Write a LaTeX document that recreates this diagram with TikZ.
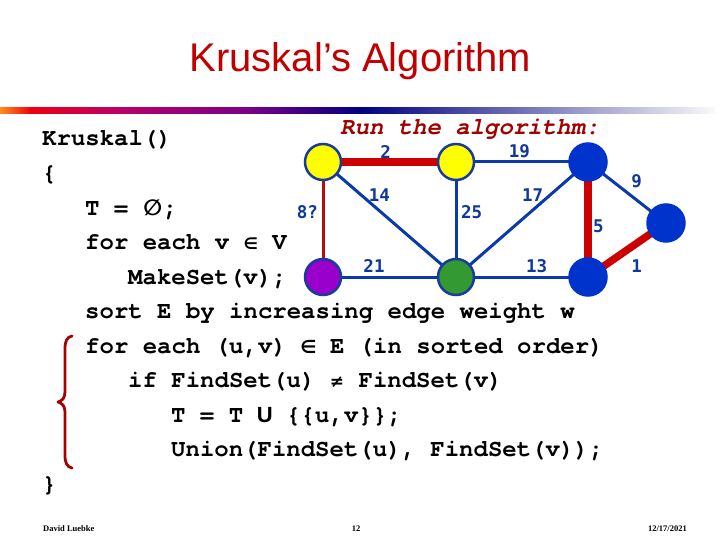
\documentclass[tikz,border=0pt]{standalone}
\usepackage{fontspec}
\setmainfont{Liberation Serif}
\newfontfamily\codefont{TeX Gyre Cursor}
\newfontfamily\symfont{DejaVu Sans}
\newfontfamily\titlefont{Liberation Sans}
\newfontfamily\wtfont{DejaVu Sans Mono}
\newcommand{\symcell}[2][14.4pt]{\makebox[#1][c]{#2}}
\definecolor{titlered}{HTML}{C00000}
\definecolor{runred}{HTML}{A00000}
\definecolor{vyellow}{HTML}{FFFF00}
\definecolor{vblue}{HTML}{0033CC}
\definecolor{vpurple}{HTML}{9900CC}
\definecolor{vgreen}{HTML}{339933}
\definecolor{vborder}{HTML}{1A3A9E}
\definecolor{eblue}{HTML}{0A3AA8}
\definecolor{ered}{HTML}{CC0000}
\definecolor{ethinred}{HTML}{B01010}
\definecolor{wtblue}{HTML}{10389A}
\definecolor{bracered}{HTML}{A80000}
\definecolor{barorange}{HTML}{FF9020}
\definecolor{barred}{HTML}{EE0010}
\definecolor{barmag}{HTML}{B8006A}
\definecolor{barpurple}{HTML}{780088}
\definecolor{barnavy}{HTML}{000080}
\definecolor{barend}{HTML}{FAFAFA}
\tikzset{
  vtx/.style={circle, minimum size=36pt, inner sep=0pt, line width=2.5pt},
  yv/.style={vtx, fill=vyellow, draw=vborder},
  bv/.style={vtx, fill=vblue, draw=vblue, minimum size=37pt},
  pv/.style={vtx, fill=vpurple, draw=vborder},
  gv/.style={vtx, fill=vgreen, draw=vborder},
  bedge/.style={draw=eblue, line width=3pt},
  redge/.style={draw=ered, line width=7.5pt},
  tredge/.style={draw=ethinred, line width=3pt},
  wt/.style={text=wtblue, inner sep=0pt, font=\wtfont\bfseries\fontsize{17.5}{17.5}\selectfont},
  code/.style={anchor=base west, inner sep=0pt, font=\codefont\bfseries\fontsize{24}{24}\selectfont},
  foot/.style={inner sep=0pt, font=\bfseries\fontsize{8.5}{8.5}\selectfont}
}
\begin{document}
\begin{tikzpicture}[x=1pt,y=-1pt]
\useasboundingbox (0,0) rectangle (720,540);
\fill[white] (0,0) rectangle (720,540);
% gradient bar
\shade[left color=barorange, right color=barred] (0,108) rectangle (31,114);
\shade[left color=barred, right color=barmag] (30,108) rectangle (121,114);
\shade[left color=barmag, right color=barpurple] (120,108) rectangle (251,114);
\shade[left color=barpurple, right color=barnavy] (250,108) rectangle (361,114);
\shade[left color=barnavy, right color=barend] (360,108) rectangle (715,114);
% title
\node[anchor=base, inner sep=0pt, text=titlered, font=\titlefont\fontsize{40}{40}\selectfont] (title) at (360.5,72) {Kruskal’s Algorithm};
\node[anchor=base west, inner sep=0pt, text=runred, font=\codefont\bfseries\itshape\fontsize{24}{24}\selectfont] (run) at (340,135) {Run the algorithm:};
% code
\node[code] (l0) at (42,146) {Kruskal()};
\node[code] (l1) at (42,180.5) {\{};
\node[code] (l2) at (85,215) {T = \symcell[20pt]{\symfont\fontsize{22}{22}\selectfont ∅};};
\node[code] (l3) at (85,249.5) {for each v \symcell{\symfont\fontsize{16}{16}\selectfont ∈} V};
\node[code] (l4) at (128,284) {MakeSet(v);};
\node[code] (l5) at (85,318.5) {sort E by increasing edge weight w};
\node[code] (l6) at (85,353) {for each (u,v) \symcell{\symfont\bfseries\fontsize{18}{18}\selectfont ∈} E (in sorted order)};
\node[code] (l7) at (128,387.5) {if FindSet(u) \symcell{\symfont\fontsize{17}{17}\selectfont ≠} FindSet(v)};
\node[code] (l8) at (171,422) {T = T \symcell{\titlefont\bfseries\fontsize{22}{22}\selectfont U} \{\{u,v\}\};};
\node[code] (l9) at (171,456.5) {Union(FindSet(u), FindSet(v));};
\node[code] (l10) at (42,491) {\}};
% brace
\draw[bracered, line width=2.8pt, line cap=round, line join=round]
  (72,336) .. controls (67,337) and (65,341) .. (65,349) -- (65,392)
  .. controls (65,398) and (62,401) .. (58,402)
  .. controls (62,403) and (65,406) .. (65,412) -- (65,455)
  .. controls (65,463) and (67,467) .. (72,468);
% vertex positions
\coordinate (a) at (323,162);
\coordinate (b) at (456,162);
\coordinate (c) at (588,162);
\coordinate (d) at (666,223);
\coordinate (e) at (323,277);
\coordinate (f) at (456,277);
\coordinate (g) at (588,277);
% edges
\path[redge] (a) -- (b);
\path[bedge] (b) -- (c);
\path[bedge] (c) -- (d);
\path[tredge] (a) -- (e);
\path[bedge] (a) -- (f);
\path[bedge] (b) -- (f);
\path[bedge] (c) -- (f);
\path[redge] (c) -- (g);
\path[bedge] (e) -- (f);
\path[bedge] (f) -- (g);
\path[redge] (g) -- (d);
% vertices
\node[yv] (va) at (a) {};
\node[yv] (vb) at (b) {};
\node[bv] (vc) at (c) {};
\node[bv] (vd) at (d) {};
\node[pv] (ve) at (e) {};
\node[gv] (vf) at (f) {};
\node[bv] (vg) at (g) {};
% weights
\node[wt] (w2) at (385.7,151.7) {2};
\node[wt] (w19) at (519.3,151.7) {19};
\node[wt] (w9) at (636.7,181.7) {9};
\node[wt] (w8) at (307.3,212.3) {8?};
\node[wt] (w14) at (379.3,195) {14};
\node[wt] (w25) at (471.7,211.7) {25};
\node[wt] (w17) at (532.7,195) {17};
\node[wt] (w5) at (598.3,226.7) {5};
\node[wt] (w21) at (374,266) {21};
\node[wt] (w13) at (536.7,266) {13};
\node[wt] (w1) at (636.7,266) {1};
% footer
\node[foot, anchor=base west] (fl) at (43,531) {David Luebke};
\node[foot, anchor=base] (fc) at (356,531) {12};
\node[foot, anchor=base east] (fr) at (687,531) {12/17/2021};
\end{tikzpicture}
\end{document}
